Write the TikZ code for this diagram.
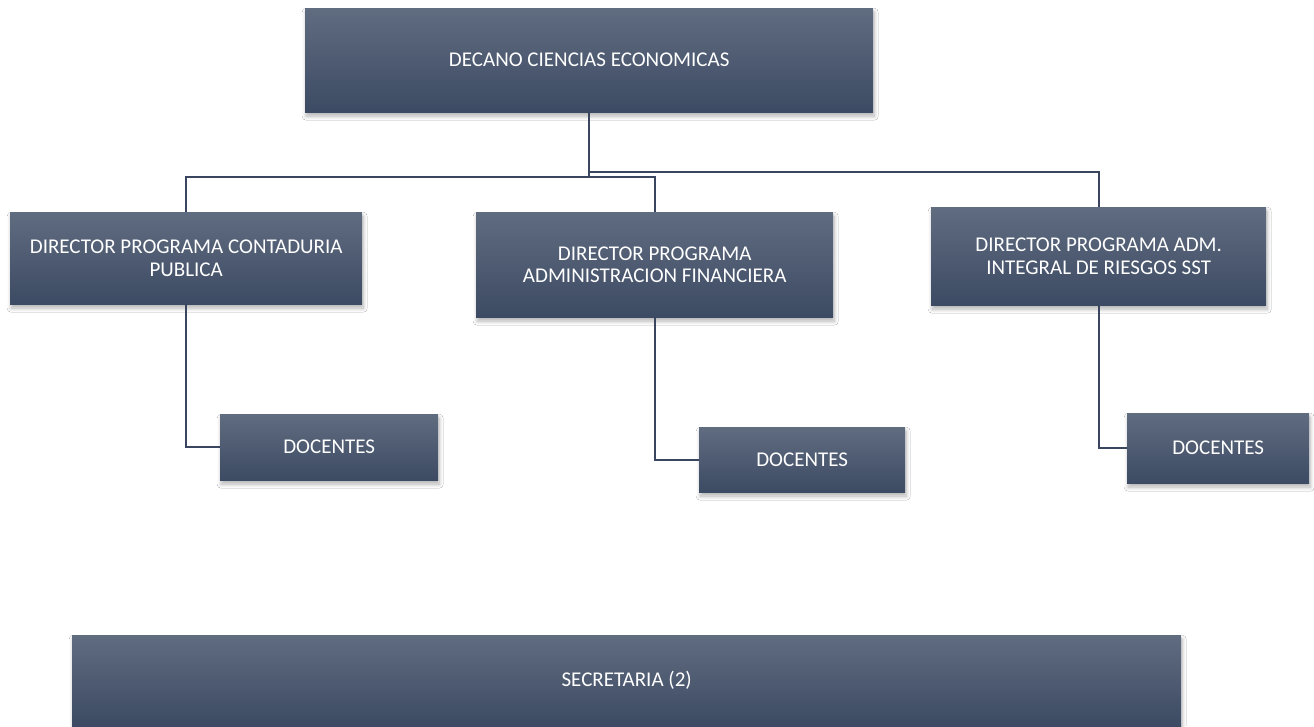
\documentclass[tikz,border=0pt]{standalone}
\usepackage{fontspec}
\setmainfont{Carlito}
\usetikzlibrary{shadows.blur}
\definecolor{boxtop}{RGB}{96,108,128}
\definecolor{boxmid}{RGB}{70,83,108}
\definecolor{boxbot}{RGB}{60,74,99}
\definecolor{linec}{RGB}{58,70,95}
\tikzset{
  orgbox/.style={rectangle, anchor=north west, inner sep=0pt, align=center,
    text=white, font=\fontsize{21}{22.5}\selectfont,
    top color=boxtop, middle color=boxmid, bottom color=boxbot,
    blur shadow={shadow xshift=1pt, shadow yshift=-4pt, shadow blur radius=4pt, shadow blur steps=8, shadow opacity=30}},
  link/.style={draw=linec, line width=2pt}
}
\begin{document}
\begin{tikzpicture}[x=1pt,y=-1pt]
\useasboundingbox[fill=white] (0,0) rectangle (1314,726);
\node[orgbox, minimum width=568pt, minimum height=104pt] (dec) at (305,8) {DECANO CIENCIAS ECONOMICAS};
\node[orgbox, minimum width=352pt, minimum height=92pt] (d1) at (10,212) {DIRECTOR PROGRAMA CONTADURIA\\PUBLICA};
\node[orgbox, minimum width=357pt, minimum height=105pt] (d2) at (476,212) {DIRECTOR PROGRAMA\\ADMINISTRACION FINANCIERA};
\node[orgbox, minimum width=335pt, minimum height=98pt] (d3) at (931,207) {DIRECTOR PROGRAMA ADM.\\INTEGRAL DE RIESGOS SST};
\node[orgbox, minimum width=218pt, minimum height=66pt] (doc1) at (220,414) {DOCENTES};
\node[orgbox, minimum width=206pt, minimum height=65pt] (doc2) at (699,427) {DOCENTES};
\node[orgbox, minimum width=182pt, minimum height=70pt] (doc3) at (1127,413) {DOCENTES};
\node[orgbox, minimum width=1109pt, minimum height=91pt] (sec) at (72,635) {SECRETARIA (2)};
\draw[link] (dec.south) -- ++(0,65) -| (d1.north);
\draw[link] (dec.south) -- ++(0,65) -| (d2.north);
\draw[link] (dec.south) -- ++(0,60) -| (d3.north);
\draw[link] (d1.south) |- (doc1.west);
\draw[link] (d2.south) |- (doc2.west);
\draw[link] (d3.south) |- (doc3.west);
\end{tikzpicture}
\end{document}
